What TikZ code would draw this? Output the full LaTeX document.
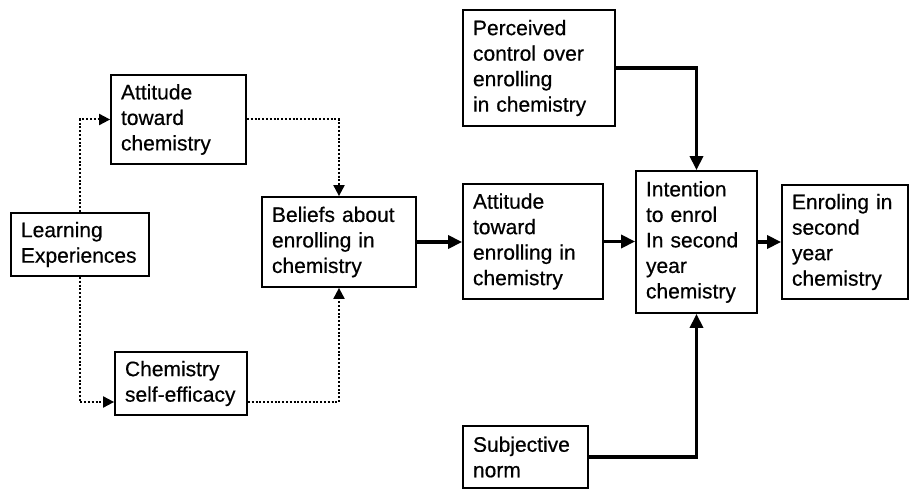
\documentclass[tikz,border=0pt]{standalone}
\usepackage{fontspec}
\setmainfont{Liberation Sans}
\newfontfamily\boxfont{Liberation Sans}[FakeBold=0.5]
\usetikzlibrary{arrows.meta}
\tikzset{
  box/.style={draw, line width=1.8pt, rectangle, align=left, inner xsep=10pt, inner ysep=0pt,
    font=\boxfont\fontsize{21}{25.5}\selectfont, anchor=center},
  solidarr/.style={line width=3.4pt, -{Triangle[length=14pt,width=13pt]}},
  dotarr/.style={line width=2pt, dash pattern=on 2pt off 1.8pt, -{Triangle[length=11pt,width=11pt]}}
}
\newcommand{\bx}[6]{\node[box, text width=#4pt-20pt, minimum width=#4pt, minimum height=#5pt] (#1) at (#2,#3) {#6};}
\begin{document}
\begin{tikzpicture}[x=1pt,y=-1pt]
\useasboundingbox (0,0) rectangle (910,489);
\bx{learn}{80}{244.5}{138}{63}{Learning\\Experiences}
\bx{attchem}{178.5}{119.5}{135}{89}{Attitude\\toward\\chemistry}
\bx{selfeff}{181}{383.5}{132}{63}{Chemistry\\self-efficacy}
\bx{beliefs}{339}{242}{154}{90}{Beliefs about\\enrolling in\\chemistry}
\bx{attenr}{533}{241.5}{140}{115}{Attitude\\toward\\enrolling in\\chemistry}
\bx{perc}{539}{68}{152}{116}{Perceived\\control over\\enrolling\\in chemistry}
\bx{intent}{696.5}{242}{121}{142}{Intention\\to enrol\\In second\\year\\chemistry}
\bx{enrol}{845}{242}{126}{114}{Enroling in\\second\\year\\chemistry}
\bx{subj}{525.5}{457}{125}{62}{Subjective\\norm}
% dotted connectors
\draw[dotarr] (learn.north) |- (attchem.west);
\draw[dotarr] (learn.south) |- ([yshift=-18.5pt]selfeff.west);
\draw[dotarr] (attchem.east) -| (beliefs.north);
\draw[dotarr] ([yshift=-18.5pt]selfeff.east) -| (beliefs.south);
% solid connectors
\draw[solidarr] (beliefs.east) -- (attenr.west |- beliefs.east);
\draw[solidarr] (attenr.east) -- (intent.west |- attenr.east);
\draw[solidarr] (intent.east) -- (enrol.west |- intent.east);
\draw[solidarr] (perc.east) -| (intent.north);
\draw[solidarr] (subj.east) -| (intent.south);
\end{tikzpicture}
\end{document}
